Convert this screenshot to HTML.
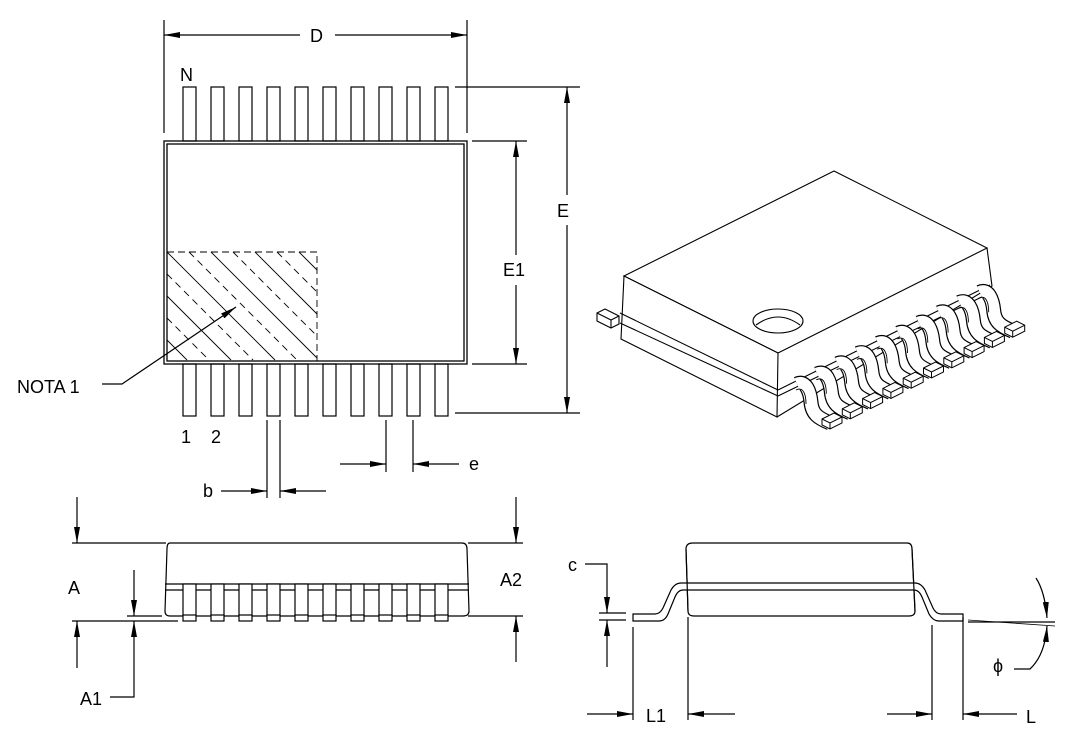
<!DOCTYPE html>
<html><head><meta charset="utf-8"><style>
html,body{margin:0;padding:0;background:#fff;}
svg{display:block;}
text{font-family:"Liberation Sans",sans-serif;font-size:18px;fill:#000;stroke:none;}
</style></head><body>
<svg id="s" width="1077" height="752" viewBox="0 0 1077 752" xmlns="http://www.w3.org/2000/svg" fill="none" stroke="#000" stroke-width="1.2">
<defs>
<marker id="ar" viewBox="0 0 16 6" refX="16" refY="3" markerWidth="16" markerHeight="6" markerUnits="userSpaceOnUse" orient="auto"><path d="M0,0 L16,3 L0,6 z" fill="#000" stroke="none"/></marker>
</defs>
<!-- TOP VIEW -->
<rect x="164" y="141" width="303" height="223" stroke-width="1.3"/>
<rect x="167" y="144" width="297" height="217" stroke-width="1.3"/>
<g id="pins"></g>
<g stroke-width="0.9">
<path d="M167,252 H317 V361" stroke-dasharray="7,4"/>
<g id="hatch"></g>
</g>
<!-- D -->
<line x1="164" y1="20" x2="164" y2="133"/><line x1="467" y1="20" x2="467" y2="133"/>
<line x1="300" y1="35" x2="164" y2="35" marker-end="url(#ar)"/><line x1="335" y1="35" x2="467" y2="35" marker-end="url(#ar)"/>
<text x="310" y="42">D</text>
<text x="180" y="81">N</text>
<!-- E -->
<line x1="455" y1="87" x2="580" y2="87"/><line x1="455" y1="413" x2="580" y2="413"/>
<line x1="567" y1="195" x2="567" y2="87" marker-end="url(#ar)"/><line x1="567" y1="225" x2="567" y2="413" marker-end="url(#ar)"/>
<text x="557" y="217">E</text>
<!-- E1 -->
<line x1="472" y1="141" x2="527" y2="141"/><line x1="472" y1="364" x2="527" y2="364"/>
<line x1="516" y1="255" x2="516" y2="141" marker-end="url(#ar)"/><line x1="516" y1="285" x2="516" y2="364" marker-end="url(#ar)"/>
<text x="503" y="276">E1</text>
<!-- NOTA 1 -->
<text x="17" y="393">NOTA  1</text>
<polyline points="102,384 122,384 236,307" marker-end="url(#ar)"/>
<text x="181" y="443">1</text><text x="211" y="443">2</text>
<!-- b -->
<line x1="267" y1="420" x2="267" y2="498"/><line x1="280" y1="420" x2="280" y2="498"/>
<line x1="221" y1="491" x2="267" y2="491" marker-end="url(#ar)"/><line x1="326" y1="491" x2="280" y2="491" marker-end="url(#ar)"/>
<text x="203" y="497">b</text>
<!-- e -->
<line x1="386" y1="420" x2="386" y2="472"/><line x1="413" y1="420" x2="413" y2="472"/>
<line x1="340" y1="464" x2="386" y2="464" marker-end="url(#ar)"/><line x1="459" y1="464" x2="413" y2="464" marker-end="url(#ar)"/>
<text x="469" y="470">e</text>

<!-- SIDE VIEW -->
<path d="M170,543 H462 Q467,543 467,549 L469,611 Q469,616 463,616 H170 Q165,616 165,611 L167,549 Q167,543 170,543 Z"/>
<line x1="165" y1="584" x2="469" y2="584"/><line x1="165" y1="590" x2="469" y2="590"/>
<g id="spins"></g>
<line x1="72" y1="543" x2="166" y2="543"/><line x1="468" y1="543" x2="523" y2="543"/>
<line x1="72" y1="621" x2="178" y2="621"/>
<line x1="127" y1="616" x2="162" y2="616"/><line x1="468" y1="616" x2="523" y2="616"/>
<line x1="77" y1="497" x2="77" y2="543" marker-end="url(#ar)"/><line x1="77" y1="668" x2="77" y2="621" marker-end="url(#ar)"/>
<text x="68" y="594">A</text>
<line x1="134" y1="570" x2="134" y2="616" marker-end="url(#ar)"/>
<polyline points="110,697 134,697 134,621" marker-end="url(#ar)"/>
<text x="80" y="705">A1</text>
<line x1="516" y1="497" x2="516" y2="543" marker-end="url(#ar)"/><line x1="516" y1="662" x2="516" y2="616" marker-end="url(#ar)"/>
<text x="500" y="586">A2</text>

<!-- RIGHT SIDE VIEW -->
<path d="M693,543 H907 Q912,543 912,549 L915,611 Q915,616 909,616 H694 Q688,616 688,611 L686,549 Q686,543 693,543 Z"/>
<path d="M633,614 H655 Q660,614 663,608 L671,590 Q675,583 681,583 H915 Q921,583 925,590 L933,608 Q936,614 941,614 H963 V621 H939 Q933,621 929,614 L922,597 Q919,590 914,590 H683 Q678,590 675,597 L668,614 Q665,621 659,621 H633 Z" fill="#fff"/>
<path d="M686,549 L688,611" /><path d="M912,549 L915,611"/>
<line x1="633" y1="627" x2="633" y2="720"/><line x1="688" y1="617" x2="688" y2="720"/>
<line x1="932" y1="625" x2="932" y2="720"/><line x1="963" y1="617" x2="963" y2="720"/>
<line x1="587" y1="714" x2="633" y2="714" marker-end="url(#ar)"/><line x1="735" y1="714" x2="688" y2="714" marker-end="url(#ar)"/>
<text x="646" y="722">L1</text>
<line x1="887" y1="714" x2="932" y2="714" marker-end="url(#ar)"/><line x1="1017" y1="714" x2="963" y2="714" marker-end="url(#ar)"/>
<text x="1026" y="723">L</text>
<text x="568" y="571">c</text>
<polyline points="585,564 607,564 607,613" marker-end="url(#ar)"/>
<line x1="599" y1="613" x2="626" y2="613"/><line x1="599" y1="620" x2="626" y2="620"/>
<line x1="607" y1="667" x2="607" y2="620" marker-end="url(#ar)"/>
<line x1="968" y1="622" x2="1055" y2="622"/>
<line x1="968" y1="620" x2="1055" y2="626" stroke-width="0.8"/>
<path d="M1036,578 Q1045,592 1047,618" marker-end="url(#ar)"/>
<path d="M1014,669 H1030 Q1045,655 1047,626" marker-end="url(#ar)"/>
<text x="993" y="672">ϕ</text>

<!-- 3D VIEW -->
<g stroke-width="1.1">
<path d="M624,276 L834,171 L987,248 L778,353 Z" fill="#fff"/>
<path d="M624,276 L621,339 L777,417 L778,353 Z" fill="#fff"/>
<path d="M987,248 L992,286 L777,417"/>
<line x1="620" y1="313" x2="778" y2="390"/><line x1="620" y1="323" x2="778" y2="396"/>
<line x1="778" y1="390" x2="990" y2="285"/><line x1="778" y1="396" x2="992" y2="292"/>
<ellipse cx="778" cy="321" rx="25" ry="12"/>
<path d="M756,325 Q778,309 800,325"/>
<path d="M597,313 L605,309 L619,316 L619,324 L611,328 L597,321 Z" fill="#fff"/>
<polyline points="597,313 611,320 619,316"/><line x1="611" y1="320" x2="611" y2="328"/>
</g>
<g id="leads"></g>
</svg>
<script>
var ns="http://www.w3.org/2000/svg";
function el(p,t,a){var e=document.createElementNS(ns,t);for(var k in a)e.setAttribute(k,a[k]);document.getElementById(p).appendChild(e);return e;}
for(var i=0;i<10;i++){var x=183+i*28;
el("pins","rect",{x:x,y:87,width:13,height:54});
el("pins","rect",{x:x,y:364,width:13,height:52});
el("spins","rect",{x:x,y:584,width:13,height:32,fill:"#fff"});
el("spins","rect",{x:x,y:615,width:13,height:6,fill:"#fff"});}
for(var k=0;k<12;k++){var x0=167-110+k*22;
var sx=x0,sy=252;var ex=x0+108,ey=360;
if(sx<167){sy=252+(167-sx);sx=167;}
if(ex>317){ey=360-(ex-317);ex=317;}
if(ey>sy)el("hatch","line",{x1:sx,y1:sy,x2:ex,y2:ey,"stroke-dasharray":(k%2?"none":"7,5")});
}
for(var i=0;i<10;i++){var dx=i*20.3,dy=-i*10.2;
var d="M"+(797+dx)+","+(384+dy)+" C"+(806+dx)+","+(380+dy)+" "+(810+dx)+","+(392+dy)+" "+(811+dx)+","+(402+dy)+" C"+(812+dx)+","+(414+dy)+" "+(818+dx)+","+(418+dy)+" "+(830+dx)+","+(423+dy);
el("leads","path",{d:d,stroke:"#000","stroke-width":15,fill:"none"});
el("leads","path",{d:d,stroke:"#fff","stroke-width":12.6,fill:"none"});
el("leads","path",{d:"M"+(796+dx)+","+(390+dy)+" C"+(804+dx)+","+(386+dy)+" "+(806+dx)+","+(396+dy)+" "+(806+dx)+","+(404+dy),stroke:"#000","stroke-width":0.9,fill:"none"});
el("leads","path",{d:"M"+(822+dx)+","+(419+dy)+" l12,-6 l8,4 l0,6 l-12,6 l-8,-4z",fill:"#fff",stroke:"#000","stroke-width":1});
el("leads","path",{d:"M"+(822+dx)+","+(419+dy)+" l8,4 l12,-6 M"+(830+dx)+","+(423+dy)+" l0,6",stroke:"#000","stroke-width":1,fill:"none"});
}
</script>
</body></html>
